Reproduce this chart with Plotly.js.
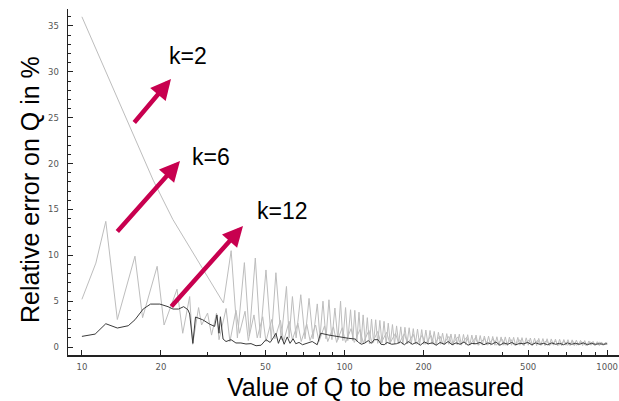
<!DOCTYPE html>
<html>
<head>
<meta charset="utf-8">
<script src="https://cdn.plot.ly/plotly-3.0.1.min.js"></script>
<style>html,body{margin:0;padding:0;background:#fff;}#chart{width:619px;height:401px;}</style>
</head>
<body>
<div id="chart"></div>
<script>
// ---- data ----
const Q_k2 = [10, 11.73, 13.96, 16.0, 18.67, 22.2, 28.1, 34.59,
37.0, 39.08, 41.55, 43.4, 45.73, 47.77, 50.21, 52.58, 54.78, 57.37, 60.09, 61.52, 63.32, 65.39, 68.13, 70.73, 73.25, 75.85, 78.74, 80.62, 82.76, 84.96, 87.21, 89.52, 91.89, 94.32, 96.56, 98.53, 100.9, 102.9, 105.4, 107.5,
109.4, 111.4, 113.5, 115.6, 117.7, 119.9, 122.1, 124.4, 126.7, 129.0, 131.4, 133.8, 136.3, 138.8, 141.4, 144.0, 146.7, 149.4, 152.2, 155.0, 157.8, 160.7, 163.7, 166.7, 169.8, 172.9, 176.2, 179.4, 182.7, 186.1, 189.6, 193.1, 196.7, 200.3, 204.0, 207.8, 211.6, 215.5, 219.5, 223.6, 227.7, 231.9, 236.2, 240.6, 245.0, 249.5, 254.2, 258.9, 263.6, 268.5, 273.5, 278.6, 283.7, 289.0, 294.3, 299.7, 305.3, 311.0, 316.7, 322.6, 328.5, 334.6, 340.7, 347.0, 353.5, 360.0, 366.6, 373.4, 380.3, 387.3, 394.5, 401.8, 409.3, 416.9, 424.5, 432.4, 440.4, 448.5, 456.8, 465.3, 473.9, 482.7, 491.6, 500.7, 509.9, 519.4, 529.0, 538.8, 548.7, 558.9, 569.2, 579.7, 590.5, 601.4, 612.5, 623.8, 635.4, 647.2, 659.1, 671.3, 683.7, 696.4, 709.2, 722.4, 735.7, 749.3, 763.2, 777.3, 791.7, 806.4, 821.2, 836.4, 851.9, 867.7, 883.7, 900.1, 916.7, 933.7, 950.9, 968.6, 986.4, 1000];
const err_k2 = [36.0, 31.4, 26.4, 22.5, 18.2, 13.9, 9.1, 4.8,
10.5, 1.0, 9.2, 1.2, 9.7, 1.0, 8.4, 0.8, 8.1, 0.8, 6.6, 1.0, 5.5, 1.0, 5.7, 0.9, 5.3, 0.9, 4.7, 1.0, 5.0, 0.9, 5.15, 0.8, 4.25, 0.8, 5.0, 0.7, 4.3, 0.7, 4.06, 0.7,
4.0, 0.6, 3.8, 0.4, 3.5, 0.5, 3.2, 0.35, 3.05, 0.5, 2.97, 0.4, 2.9, 0.45, 2.8, 0.3, 2.6, 0.4, 2.45, 0.35, 2.3, 0.4, 2.2, 0.3, 2.15, 0.35, 2.1, 0.3, 2.0, 0.35, 1.96, 0.25, 1.9, 0.3, 1.85, 0.25, 1.8, 0.3, 1.7, 0.2, 1.6, 0.3, 1.52, 0.25, 1.46, 0.3, 1.42, 0.2, 1.4, 0.25, 1.4, 0.2, 1.37, 0.25, 1.34, 0.2, 1.3, 0.25, 1.3, 0.2, 1.25, 0.2, 1.2, 0.25, 1.18, 0.2, 1.15, 0.2, 1.12, 0.15, 1.1, 0.2, 1.1, 0.15, 1.08, 0.2, 1.06, 0.15, 1.05, 0.2, 1.02, 0.15, 1.0, 0.2, 0.98, 0.15, 0.96, 0.15, 0.94, 0.2, 0.92, 0.15, 0.9, 0.15, 0.88, 0.2, 0.86, 0.15, 0.84, 0.15, 0.82, 0.2, 0.8, 0.15, 0.78, 0.15, 0.75, 0.2, 0.72, 0.15, 0.7, 0.15, 0.66, 0.2, 0.62, 0.15, 0.58, 0.15, 0.55, 0.2, 0.52, 0.3];

const Q_k6 = [10, 11.3, 12.33, 13.64, 15.92, 17.02, 19.34, 20.55, 23.02, 24.2, 25.72, 26.4, 27.81, 28.55, 30.09, 31.16, 32.55, 33.27,
35.4, 36.6, 38.6, 39.8, 41.8, 43.0, 45.2, 46.5, 48.8, 50.2, 52.8, 54.3, 57.0, 58.6, 61.5, 63.3, 66.4, 68.4, 71.8, 73.9, 77.6, 79.9, 83.9, 86.3, 90.7, 93.3, 98.0, 100.9, 105.9, 108.9,
114.5, 117.8, 123.8, 127.3, 133.8, 137.6, 144.6, 148.8, 156.3, 160.8, 169.0, 173.8, 182.7, 187.9, 197.5, 203.1, 213.5, 219.5, 230.8, 237.3, 249.5, 256.5, 269.7, 277.3, 291.5, 299.7, 315.1, 324.0, 340.6, 350.2, 368.2, 378.6, 398.0, 409.3, 430.2, 442.4, 465.1, 478.2, 502.7, 517.0, 543.4, 558.9, 587.4, 604.1, 635.0, 653.0, 686.4, 705.9, 742.0, 763.1, 802.1, 824.9, 867.1, 891.7, 937.3, 963.9, 1000];
const err_k6 = [5.2, 9.15, 13.7, 3.0, 9.9, 3.2, 8.8, 2.4, 6.3, 1.5, 5.5, 0.3, 4.3, 2.4, 3.7, 1.3, 3.7, 0.8,
4.2, 0.6, 4.0, 1.5, 3.9, 0.7, 3.5, 1.0, 3.3, 0.6, 3.0, 0.9, 2.9, 0.6, 2.8, 0.8, 2.6, 0.6, 2.5, 0.7, 2.4, 0.6, 2.3, 0.6, 2.2, 0.5, 2.1, 0.5, 2.0, 0.5,
1.9, 0.45, 1.8, 0.4, 1.7, 0.4, 1.6, 0.4, 1.5, 0.35, 1.45, 0.35, 1.38, 0.3, 1.3, 0.3, 1.25, 0.3, 1.2, 0.3, 1.15, 0.25, 1.1, 0.25, 1.05, 0.25, 1.0, 0.2, 0.95, 0.2, 0.9, 0.2, 0.85, 0.2, 0.82, 0.2, 0.78, 0.2, 0.75, 0.2, 0.72, 0.2, 0.68, 0.2, 0.65, 0.2, 0.62, 0.2, 0.6, 0.2, 0.57, 0.2, 0.55, 0.2, 0.52, 0.2, 0.5];

const Q_k12 = [10, 11.23, 12.33, 13.64, 15.01, 15.92, 17.11, 18.25, 19.80, 21.27, 22.22, 23.34, 24.40, 25.34, 25.72, 26.09, 26.45, 27.07, 28.84, 30.63, 32.01, 32.67, 33.26, 33.68, 34.47, 35.37, 36.97, 38.58, 40.31, 42.14, 44.04, 46.03, 48.11, 50.2, 52.1, 53.5, 54.8, 56.0, 57.4, 58.9, 60.5, 62.0, 63.7, 65.2, 67.1, 69.2, 72.0, 75.3, 78.7, 81.1, 87.2, 95.0, 103.6, 109.8, 113.0, 116.0, 119.6, 123.1, 126.4, 129.8, 134.2, 137.6, 141.6, 145.3, 151.3, 157.6,
163.2, 169.0, 175.0, 181.2, 187.6, 194.3, 201.2, 208.3, 215.7, 223.4, 231.3, 239.5, 248.0, 256.8, 265.9, 275.4, 285.1, 295.3, 305.8, 316.6, 327.9, 339.5, 351.5, 364.0, 377.0, 390.3, 404.2, 418.6, 433.4, 448.8, 464.7, 481.2, 498.3, 516.0, 534.4, 553.3, 573.0, 593.3, 614.4, 636.2, 658.8, 682.2, 706.4, 731.5, 757.5, 784.4, 812.2, 841.1, 870.9, 901.9, 933.9, 967.1, 1000];
const err_k12 = [1.16, 1.41, 2.54, 2.07, 2.32, 2.97, 4.14, 4.68, 4.68, 4.4, 4.14, 4.14, 4.4, 4.06, 3.6, 2.25, 0.4, 3.27, 2.97, 2.5, 2.25, 3.5, 1.5, 3.3, 0.87, 0.6, 0.8, 0.44, 0.44, 0.33, 0.37, 0.14, 0.2, 0.8, 0.5, 1.0, 1.5, 0.4, 1.2, 0.3, 1.1, 0.4, 0.9, 0.36, 0.5, 0.25, 0.4, 0.6, 0.25, 1.5, 1.3, 1.1, 0.95, 0.87, 0.5, 0.3, 0.44, 0.7, 0.4, 0.8, 0.8, 0.3, 0.25, 0.5, 0.3, 0.36,
0.55, 0.25, 0.6, 0.3, 0.5, 0.2, 0.55, 0.35, 0.45, 0.2, 0.5, 0.3, 0.6, 0.25, 0.45, 0.3, 0.55, 0.2, 0.4, 0.35, 0.5, 0.25, 0.45, 0.3, 0.55, 0.2, 0.45, 0.3, 0.5, 0.25, 0.4, 0.35, 0.5, 0.25, 0.45, 0.3, 0.4, 0.25, 0.45, 0.3, 0.4, 0.25, 0.45, 0.3, 0.4, 0.3, 0.45, 0.25, 0.4, 0.3, 0.35, 0.3, 0.35];

const xTickVals = [10, 20, 50, 100, 200, 500, 1000];
const xTickText = ['10', '20', '50', '100', '200', '500', '1000'];
const xMinorVals = [30, 40, 60, 70, 80, 90, 300, 400, 600, 700, 800, 900];
const yTickVals = [0, 5, 10, 15, 20, 25, 30, 35];
const seriesLabels = ['k=2', 'k=6', 'k=12'];

// ---- layout geometry (pixels) ----
const W = 619, H = 401, M = {l: 68, r: 0, t: 9, b: 46};
const PW = W - M.l - M.r, PH = H - M.t - M.b;
const px = x => (x - M.l) / PW;
const py = y => (M.t + PH - y) / PH;

const LIGHT = '#bdbdbd', DARK = '#3a3a3a', ARROW = '#c8004f';
const traces = [
  {x: Q_k2, y: err_k2, name: seriesLabels[0], mode: 'lines', line: {color: LIGHT, width: 1}},
  {x: Q_k6, y: err_k6, name: seriesLabels[1], mode: 'lines', line: {color: LIGHT, width: 1}},
  {x: Q_k12, y: err_k12, name: seriesLabels[2], mode: 'lines', line: {color: DARK, width: 1}}
];

const arrows = [ // [tipX, tipY, tailX, tailY] in pixels
  [171, 79, 133, 124],
  [180, 161, 116, 233],
  [243, 226, 170, 308]
];
const labelPos = [[188, 56], [211, 157], [282, 211]];
const FONT = 'Liberation Sans, Arial, sans-serif';

const annotations = [];
arrows.forEach(a => annotations.push({
  xref: 'paper', yref: 'paper', x: px(a[0]), y: py(a[1]),
  ax: a[2] - a[0], ay: a[3] - a[1], text: '', showarrow: true,
  arrowhead: 2, arrowsize: 0.9, arrowwidth: 4.5, arrowcolor: ARROW, standoff: 0
}));
labelPos.forEach((p, i) => annotations.push({
  xref: 'paper', yref: 'paper', x: px(p[0]), y: py(p[1]), xanchor: 'center', yanchor: 'middle',
  text: seriesLabels[i], showarrow: false, font: {family: FONT, size: 23, color: '#000'}
}));
annotations.push({
  xref: 'paper', yref: 'paper', x: px(375), y: py(387), xanchor: 'center', yanchor: 'middle',
  text: 'Value of Q to be measured', showarrow: false, font: {family: FONT, size: 25, color: '#000'}
});
annotations.push({
  xref: 'paper', yref: 'paper', x: px(30), y: py(190), xanchor: 'center', yanchor: 'middle',
  text: 'Relative error on Q in %', textangle: -90, showarrow: false, font: {family: FONT, size: 25, color: '#000'}
});

const tickFont = {family: 'DejaVu Sans, sans-serif', size: 8.5, color: '#555'};
const layout = {
  width: W, height: H, margin: M, showlegend: false,
  paper_bgcolor: '#fff', plot_bgcolor: '#fff',
  xaxis: {
    type: 'log', range: [0.947, 3.045], showgrid: false, zeroline: false,
    showline: true, linecolor: '#222', linewidth: 1.5,
    tickmode: 'array', tickvals: xTickVals, ticktext: xTickText,
    ticks: 'inside', ticklen: 5, tickcolor: '#222', tickwidth: 1,
    tickfont: tickFont, ticklabelstandoff: 3, ticklabeloverflow: 'allow',
    minor: {tickmode: 'array', tickvals: xMinorVals, ticks: 'inside', ticklen: 3, tickcolor: '#222', showgrid: false}
  },
  yaxis: {
    range: [-0.87, 36.85], showgrid: false, zeroline: false,
    showline: true, linecolor: '#222', linewidth: 1.5,
    tickmode: 'array', tickvals: yTickVals,
    ticks: 'inside', ticklen: 5, tickcolor: '#222', tickwidth: 1,
    tickfont: tickFont, ticklabelstandoff: 6,
    minor: {dtick: 1, ticks: 'inside', ticklen: 3, tickcolor: '#222', showgrid: false}
  },
  annotations: annotations
};

Plotly.newPlot('chart', traces, layout, {staticPlot: true, displayModeBar: false});
</script>
</body>
</html>
